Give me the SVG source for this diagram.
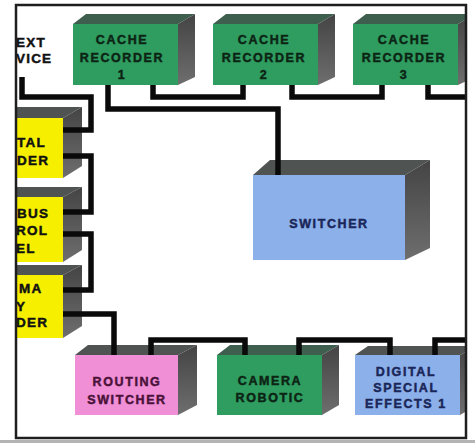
<svg xmlns="http://www.w3.org/2000/svg" width="475" height="443" viewBox="0 0 475 443">
<style>
text{font-family:"Liberation Sans",Arial,sans-serif;font-weight:bold;font-size:12.5px;letter-spacing:1.6px;stroke-width:0.45px;}
.c{text-anchor:middle;}
.tg{fill:#0c2414;stroke:#0c2414;}
.tk{fill:#111;stroke:#111;font-size:13.5px;letter-spacing:1.2px;}
.tp{fill:#4a1238;stroke:#4a1238;}
.tb{fill:#1a2658;stroke:#1a2658;}
.gf{fill:#2f9c60;}
.yf{fill:#f6f000;}
.pf{fill:#f08ed6;}
.bf{fill:#8cb0ea;}
.top{fill:#4f5351;}
.gtop{fill:#3f5f4e;}
.side{fill:url(#sg);}
.wire{fill:none;stroke:#0a0a0a;stroke-width:5.5;stroke-linejoin:miter;stroke-linecap:butt;}
.frame{fill:none;stroke:#1e1e1e;stroke-width:2.5;}
</style>
<defs>
<linearGradient id="sg" x1="0" y1="0" x2="0" y2="1">
<stop offset="0" stop-color="#444"/>
<stop offset="1" stop-color="#6e6e6e"/>
</linearGradient>
<clipPath id="fr"><rect x="16" y="5" width="450" height="433"/></clipPath>
</defs>
<rect width="475" height="443" fill="#ffffff"/>
<g clip-path="url(#fr)">
<g id="text-device">
<text class="tk" x="16" y="47">EXT</text>
<text class="tk" x="16" y="63">VICE</text>
</g>
<g id="cache-recorder-1">
<polygon class="gtop" points="73,24 86,14 195,14 178,24"/>
<polygon class="side" points="178,24 195,14 195,77 178,85"/>
<rect class="gf" x="73" y="24" width="105" height="61"/>
<text class="tg c" x="122" y="44">CACHE</text>
<text class="tg c" x="122" y="62">RECORDER</text>
<text class="tg c" x="122" y="79">1</text>
</g>
<g id="cache-recorder-2">
<polygon class="gtop" points="213,24 226,14 335,14 318,24"/>
<polygon class="side" points="318,24 335,14 335,77 318,85"/>
<rect class="gf" x="213" y="24" width="105" height="61"/>
<text class="tg c" x="264" y="44">CACHE</text>
<text class="tg c" x="264" y="62">RECORDER</text>
<text class="tg c" x="264" y="79">2</text>
</g>
<g id="cache-recorder-3">
<polygon class="gtop" points="353,24 366,14 475,14 458,24"/>
<polygon class="side" points="458,24 475,14 475,77 458,85"/>
<rect class="gf" x="353" y="24" width="105" height="61"/>
<text class="tg c" x="404" y="44">CACHE</text>
<text class="tg c" x="404" y="62">RECORDER</text>
<text class="tg c" x="404" y="79">3</text>
</g>
<g id="digital-recorder">
<polygon class="top" points="0,118 0,107 82,107 63,118"/>
<polygon class="side" points="63,118 82,107 82,166 63,178"/>
<rect class="yf" x="0" y="118" width="63" height="60"/>
<text class="tk" x="17" y="147">TAL</text>
<text class="tk" x="17" y="165">DER</text>
</g>
<g id="bus-control-panel">
<polygon class="top" points="0,197 0,187 82,187 63,197"/>
<polygon class="side" points="63,197 82,187 82,250 63,262"/>
<rect class="yf" x="0" y="197" width="63" height="65"/>
<text class="tk" x="17" y="218">BUS</text>
<text class="tk" x="16" y="235">ROL</text>
<text class="tk" x="16" y="253">EL</text>
</g>
<g id="chroma-key-encoder">
<polygon class="top" points="0,275 0,265 82,265 63,275"/>
<polygon class="side" points="63,275 82,265 82,326 63,338"/>
<rect class="yf" x="0" y="275" width="63" height="63"/>
<text class="tk" x="19" y="293">MA</text>
<text class="tk" x="16" y="311">Y</text>
<text class="tk" x="16" y="327">DER</text>
</g>
<g id="switcher">
<polygon class="top" points="253,175 270,160 430,160 405,175"/>
<polygon class="side" points="405,175 430,160 430,248 405,260"/>
<rect class="bf" x="253" y="175" width="152" height="85"/>
<text class="tb c" x="329" y="228" font-size="12.5">SWITCHER</text>
</g>
<g id="routing-switcher">
<polygon class="top" points="75,355 88,345 197,345 178,355"/>
<polygon class="side" points="178,355 197,345 197,405 178,415"/>
<rect class="pf" x="75" y="355" width="103" height="60"/>
<text class="tp c" x="127" y="386" font-size="12" letter-spacing="2">ROUTING</text>
<text class="tp c" x="127" y="404" font-size="12" letter-spacing="2">SWITCHER</text>
</g>
<g id="camera-robotic">
<polygon class="gtop" points="217,355 230,345 339,345 322,355"/>
<polygon class="side" points="322,355 339,345 339,405 322,415"/>
<rect class="gf" x="217" y="355" width="105" height="60"/>
<text class="tg c" x="270" y="385" font-size="12" letter-spacing="2">CAMERA</text>
<text class="tg c" x="270" y="402" font-size="12" letter-spacing="2">ROBOTIC</text>
</g>
<g id="digital-special-effects-1">
<polygon class="top" points="355,355 368,346 477,346 460,355"/>
<polygon class="side" points="460,355 477,346 477,405 460,415"/>
<rect class="bf" x="355" y="355" width="105" height="60"/>
<text class="tb c" x="406" y="376" font-size="11.5" letter-spacing="1.8">DIGITAL</text>
<text class="tb c" x="406" y="392" font-size="11.5" letter-spacing="1.8">SPECIAL</text>
<text class="tb c" x="406" y="408" font-size="11.5" letter-spacing="1.8">EFFECTS 1</text>
</g>
<g id="connectors">
<path class="wire" d="M22,77 V97 H91 V130 H63"/>
<path class="wire" d="M63,156 H91 V212 H63"/>
<path class="wire" d="M63,234 H91 V290 H63"/>
<path class="wire" d="M63,314 H114 V355"/>
<path class="wire" d="M108,85 V109 H278 V175"/>
<path class="wire" d="M153,85 V97 H243 V85"/>
<path class="wire" d="M292,85 V97 H382 V85"/>
<path class="wire" d="M428,85 V97 H470"/>
<path class="wire" d="M151,355 V340 H245 V355"/>
<path class="wire" d="M299,355 V340 H390 V355"/>
<path class="wire" d="M435,355 V340 H470"/>
</g>
</g>
<rect class="frame" x="16" y="5" width="450" height="433"/>
<rect x="0" y="440" width="475" height="3" fill="#b4b4b4"/>
</svg>
